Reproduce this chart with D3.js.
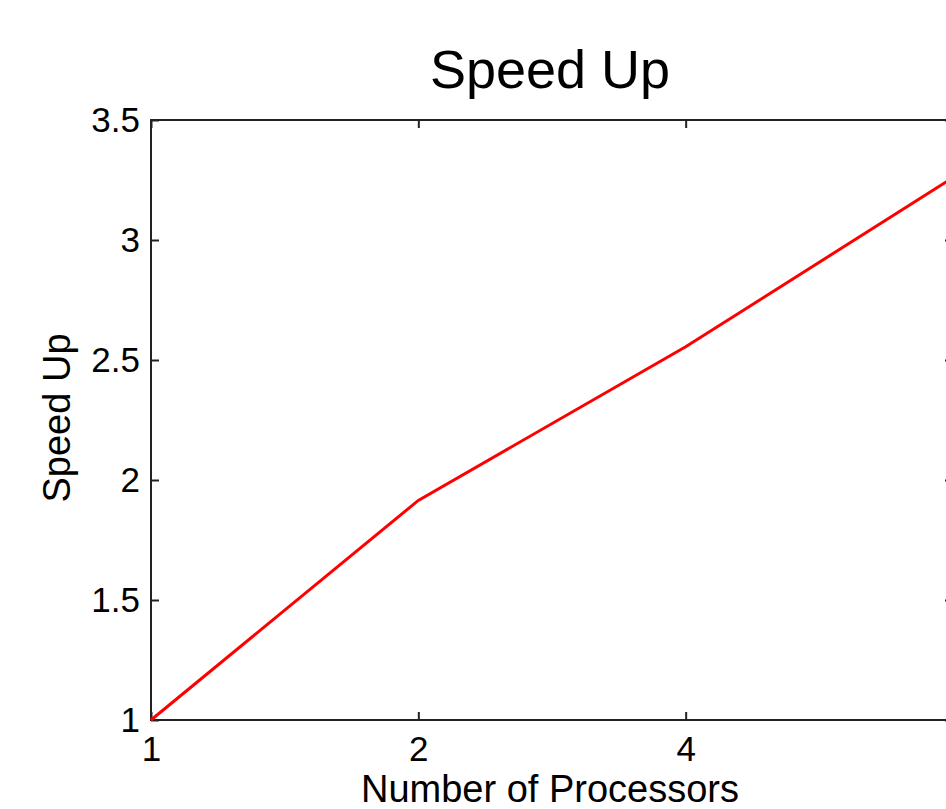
<!DOCTYPE html>
<html>
<head>
<meta charset="utf-8">
<script src="https://cdn.jsdelivr.net/npm/d3@7"></script>
<style>
  body { margin: 0; background: #fff; overflow: hidden; }
  text { font-family: "Liberation Sans", Arial, sans-serif; fill: #000; }
</style>
</head>
<body>
<script>
// values
const processors = ['1', '2', '4', '8']
const speedUp = [1.0, 1.915, 2.555, 3.26]
const yTicks = [1, 1.5, 2, 2.5, 3, 3.5]

const W = 946, H = 809
const plotL = 151, plotR = 953, plotT = 120, plotB = 720

const svg = d3.select('body').append('svg').attr('width', W).attr('height', H)

const x = d3.scalePoint().domain(processors).range([plotL, plotR])
const y = d3.scaleLinear().domain([1, 3.5]).range([plotB, plotT])

// box
svg.append('rect')
  .attr('x', plotL).attr('y', plotT)
  .attr('width', plotR - plotL).attr('height', plotB - plotT)
  .attr('fill', 'none').attr('stroke', '#222').attr('stroke-width', 2)

const tickLen = 8
const axisStyle = g => {
  g.select('.domain').remove()
  g.selectAll('.tick line').attr('stroke', '#222').attr('stroke-width', 2)
  g.selectAll('.tick text').style('font-size', '35px')
}

// inward ticks, MATLAB style; the last label falls off the page
svg.append('g').attr('transform', `translate(0,${plotB})`)
  .call(d3.axisBottom(x).tickSizeInner(-tickLen).tickSizeOuter(0).tickPadding(16)
    .tickFormat(d => x(d) + 10 > W ? '' : d))
  .call(axisStyle)

svg.append('g').attr('transform', `translate(0,${plotT})`)
  .call(d3.axisTop(x).tickSizeInner(-tickLen).tickSizeOuter(0).tickFormat(''))
  .call(axisStyle)

svg.append('g').attr('transform', `translate(${plotL},0)`)
  .call(d3.axisLeft(y).tickValues(yTicks).tickFormat(d3.format('')).tickSizeInner(-tickLen).tickSizeOuter(0).tickPadding(11))
  .call(axisStyle)

svg.append('g').attr('transform', `translate(${plotR},0)`)
  .call(d3.axisRight(y).tickValues(yTicks).tickSizeInner(-tickLen).tickSizeOuter(0).tickFormat(''))
  .call(axisStyle)

// the line
const line = d3.line().x((d, i) => x(processors[i])).y(d => y(d))
svg.append('path')
  .datum(speedUp)
  .attr('d', line)
  .attr('fill', 'none')
  .attr('stroke', '#ff0000')
  .attr('stroke-width', 3)

// labels
svg.append('text')
  .attr('x', 550).attr('y', 88)
  .attr('text-anchor', 'middle')
  .style('font-size', '54px')
  .text('Speed Up')

svg.append('text')
  .attr('x', 550).attr('y', 802)
  .attr('text-anchor', 'middle')
  .style('font-size', '38px')
  .text('Number of Processors')

svg.append('text')
  .attr('transform', `translate(70,${(plotT + plotB) / 2 - 2}) rotate(-90)`)
  .attr('text-anchor', 'middle')
  .style('font-size', '38px')
  .text('Speed Up')
</script>
</body>
</html>
